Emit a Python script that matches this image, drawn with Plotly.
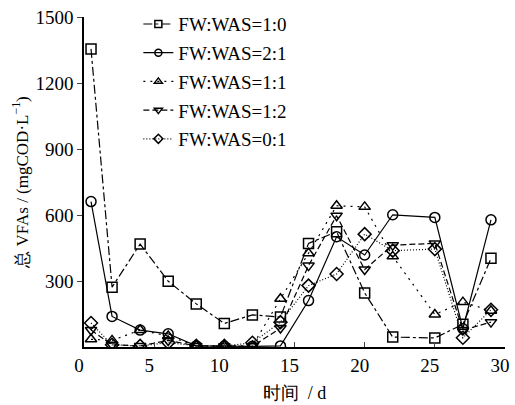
import plotly.graph_objects as go

days = [0.5, 2, 4, 6, 8, 10, 12, 14, 16, 18, 20, 22, 25, 27, 29]
names = ["FW:WAS=1:0", "FW:WAS=2:1", "FW:WAS=1:1", "FW:WAS=1:2", "FW:WAS=0:1"]
vfa_10 = [1355, 272, 468, 299, 196, 107, 146, 136, 471, 524, 246, 45, 41, 103, 403]
vfa_21 = [661, 139, 77, 60, 5, 3, 3, 5, 211, 501, 418, 601, 589, 83, 578]
vfa_11 = [35, 30, 77, 50, 5, 5, 5, 219, 426, 642, 637, 412, 148, 204, 165]
vfa_12 = [77, 10, 5, 30, 5, 3, 3, 86, 370, 597, 352, 463, 471, 77, 113]
vfa_01 = [109, 10, 5, 20, 5, 5, 19, 113, 279, 332, 513, 438, 445, 42, 169]
yticks = [300, 600, 900, 1200, 1500]
xticks = [0, 5, 10, 15, 20, 25, 30]

series = [vfa_10, vfa_21, vfa_11, vfa_12, vfa_01]
symbols = ["square-open", "circle-open", "triangle-up-open", "triangle-down-open", "diamond-open"]
dashes = ["dashdot", "solid", "2px,5px", "6px,3px", "1px,2px"]

serif = "Liberation Serif"

W, H = 515, 405
L, R, T, B = 84, 5, 13, 58
PW, PH = W - L - R, H - T - B

fig = go.Figure()
for i, (nm, ys) in enumerate(zip(names, series)):
    fig.add_trace(go.Scatter(
        x=days, y=ys, name=nm, mode="lines+markers", showlegend=False,
        line=dict(color="black", width=1.2, dash=dashes[i]),
        marker=dict(symbol=symbols[i], size=10, color="black",
                    line=dict(color="black", width=1.5)),
        legendgroup=nm,
    ))
for i, nm in enumerate(names):
    fig.add_trace(go.Scatter(
        x=[None], y=[None], name=nm, mode="lines+markers", showlegend=True,
        line=dict(color="black", width=1.2, dash=dashes[i]),
        marker=dict(symbol=symbols[i], size=7, color="black",
                    line=dict(color="black", width=1.5)),
        legendgroup=nm,
    ))

fig.update_layout(
    width=W, height=H,
    margin=dict(l=L, r=R, t=T, b=B),
    paper_bgcolor="white", plot_bgcolor="white",
    font=dict(family=serif, size=19, color="black"),
    showlegend=True,
    legend=dict(x=(139 - L) / PW, y=(H - B - 1) / PH,
                xanchor="left", yanchor="top",
                bgcolor="rgba(0,0,0,0)", borderwidth=0,
                font=dict(family=serif, size=19), tracegroupgap=1),
    xaxis=dict(range=[0, 30], tickvals=xticks, ticks="inside", ticklen=5,
               showline=True, linecolor="black", linewidth=1.5,
               showgrid=False, zeroline=False, mirror=False,
               ticklabeloverflow="allow", ticklabelshift=-5,
               tickfont=dict(family=serif, size=19),
               title=dict(text="时间  / d", font=dict(family=serif, size=18), standoff=12)),
    yaxis=dict(range=[0, 1500], tickvals=yticks, ticks="outside", ticklen=5,
               showline=True, linecolor="black", linewidth=1.5,
               showgrid=False, zeroline=False,
               ticklabeloverflow="allow",
               tickfont=dict(family=serif, size=19),
               title=dict(text="总 VFAs / (mgCOD·L<sup>−1</sup>)", font=dict(family=serif, size=17), standoff=3)),
)

fig.write_html("out.html", config={"displayModeBar": False},
               post_script="document.body.style.margin='0px';")
